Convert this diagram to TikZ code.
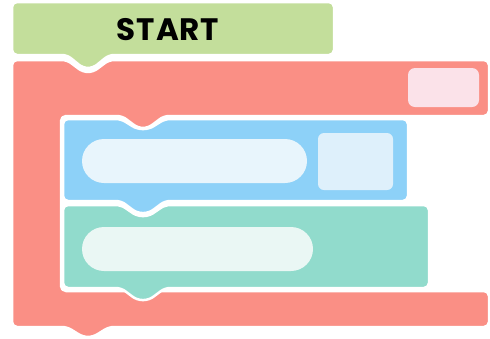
\documentclass[tikz,border=0pt]{standalone}
\usepackage{fontspec}
\usepackage{tikz}
\newfontfamily\bloque[LetterSpace=3]{Poppins}
\definecolor{verde}{RGB}{195,222,155}
\definecolor{rojo}{RGB}{250,143,133}
\definecolor{azul}{RGB}{141,209,248}
\definecolor{turquesa}{RGB}{145,219,204}
\definecolor{rosa}{RGB}{251,226,233}
\definecolor{celeste}{RGB}{232,245,252}
\definecolor{celestecaja}{RGB}{222,240,251}
\definecolor{menta}{RGB}{234,247,244}

\begin{document}
\begin{tikzpicture}[x=1pt,y=-1pt,
  blq/.style={draw=white,line width=2.5pt,rounded corners=5pt,line join=round},
  hueco/.style={rounded corners=#1},
  hueco/.default=7pt]
  \fill[white] (0,0) rectangle (490,338);
  \useasboundingbox (0,0) rectangle (490,338);
  \draw[blq,fill=rojo] (12,200) -- (12,60) -- (67,60) -- (83,72) -- (93,72) -- (109,60) -- (489,60) -- (489,116)
    -- (164,116) -- (148,128) -- (138,128) -- (122,116) -- (61,116) -- (61,291) -- (489,291) -- (489,327)
    -- (109,327) -- (93,337) -- (83,337) -- (67,327) -- (12,327) -- cycle;
  \fill[rosa,hueco] (408,68) rectangle (479,107);
  \draw[blq,fill=verde] (12,30) -- (12,2) -- (334,2) -- (334,55) -- (109,55) -- (93,68) -- (83,68) -- (67,55)
    -- (12,55) -- cycle;
  \node[font=\bloque\bfseries\fontsize{31}{33}\selectfont] (inicio) at (168,30) {START};
  \draw[blq,fill=turquesa] (63,250) -- (63,205) -- (121,205) -- (137,216) -- (149,216) -- (165,205) -- (429,205)
    -- (429,288) -- (165,288) -- (149,300) -- (137,300) -- (121,288) -- (63,288) -- cycle;
  \fill[menta,hueco=22pt] (82,227) rectangle (313,271);
  \draw[blq,fill=azul] (63,160) -- (63,119) -- (121,119) -- (137,129) -- (149,129) -- (165,119) -- (408,119)
    -- (408,201) -- (165,201) -- (149,213) -- (137,213) -- (121,201) -- (63,201) -- cycle;
  \fill[celeste,hueco=22pt] (82,139) rectangle (307,183);
  \fill[celestecaja,hueco=6pt] (318,133) rectangle (393,190);
\end{tikzpicture}
\end{document}
